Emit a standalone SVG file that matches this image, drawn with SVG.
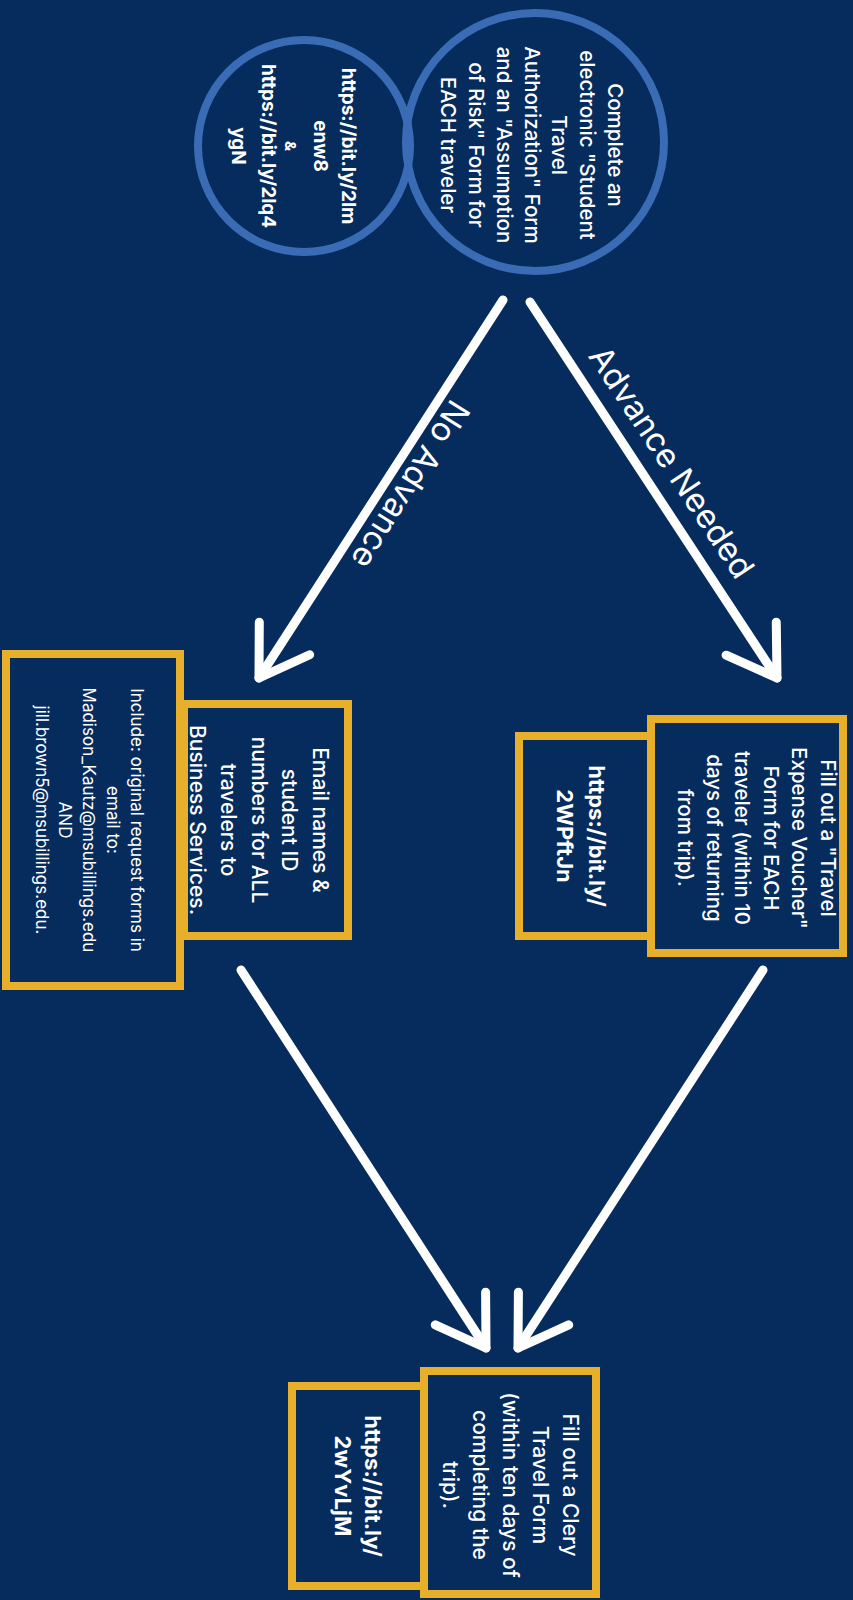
<svg xmlns="http://www.w3.org/2000/svg" width="853" height="1600" viewBox="0 0 853 1600">
<defs>
<style>
.bg{fill:#062c5e}
.circ{fill:none;stroke:#3a6cb6;stroke-width:8}
.box{fill:#062c5e;stroke:#e8b02a;stroke-width:8}
.t{font-family:Inter,"Open Sans","Liberation Sans",sans-serif;fill:#ffffff;text-anchor:middle;dominant-baseline:central}
.m{font-size:20.5px;font-weight:500}
.b{font-size:19px;font-weight:700}
.lk{font-size:22px;font-weight:700}
.s{font-size:17px;font-weight:400}
.lbl{font-size:33px;font-weight:400}
.arrow{fill:none;stroke:#ffffff;stroke-width:9;stroke-linecap:round;stroke-linejoin:round}
</style>
<marker id="head" markerUnits="userSpaceOnUse" orient="auto" refX="0" refY="0" markerWidth="120" markerHeight="120" overflow="visible">
<path d="M -47,-30 L 0,0 L -47,30" fill="none" stroke="#ffffff" stroke-width="9" stroke-linecap="round" stroke-linejoin="round"/>
</marker>
</defs>
<rect class="bg" x="0" y="0" width="853" height="1600"/>

<g id="links-circle">
<circle class="circ" cx="304" cy="146" r="106"/>
<g class="t b" transform="translate(293,146) rotate(90)">
<text x="0" y="-55">https://bit.ly/2lm</text>
<text x="0" y="-27">enw8</text>
<text x="0" y="3" style="font-size:15px">&amp;</text>
<text x="0" y="25">https://bit.ly/2lq4</text>
<text x="0" y="55">ygN</text>
</g>
</g>

<g id="start-circle">
<circle class="circ" cx="535" cy="142" r="129"/>
<g class="t m" transform="translate(532,145) rotate(90)">
<text x="0" y="-83.5">Complete an</text>
<text x="0" y="-55.7">electronic "Student</text>
<text x="0" y="-27.8">Travel</text>
<text x="0" y="0">Authorization" Form</text>
<text x="0" y="27.8">and an "Assumption</text>
<text x="0" y="55.7">of Risk" Form for</text>
<text x="0" y="83.5">EACH traveler</text>
</g>
</g>

<g id="connectors">
<path class="arrow" d="M 503,300 L 259,678" marker-end="url(#head)"/>
<path class="arrow" d="M 530,302 L 777,678" marker-end="url(#head)"/>
<path class="arrow" d="M 241,970 L 486,1348" marker-end="url(#head)"/>
<path class="arrow" d="M 763,970 L 518,1348" marker-end="url(#head)"/>
<text class="t lbl" transform="translate(411,485) rotate(122)">No Advance</text>
<text class="t lbl" transform="translate(672,462) rotate(56.5)">Advance Needed</text>
</g>

<g id="voucher-link">
<rect class="box" x="519" y="736" width="132" height="200"/>
<g class="t lk" transform="translate(581,836) rotate(90)">
<text x="0" y="-16">https://bit.ly/</text>
<text x="0" y="16">2WPftJn</text>
</g>
</g>

<g id="voucher">
<rect class="box" x="651" y="719" width="192" height="234"/>
<g class="t m" transform="translate(757,838) rotate(90)">
<text x="0" y="-71.5">Fill out a "Travel</text>
<text x="0" y="-42.9">Expense Voucher"</text>
<text x="0" y="-14.3">Form for EACH</text>
<text x="0" y="14.3">traveler (within 10</text>
<text x="0" y="42.9">days of returning</text>
<text x="0" y="71.5">from trip).</text>
</g>
</g>

<g id="include">
<rect class="box" x="6" y="654" width="174" height="332"/>
<g class="t s" transform="translate(89,820) rotate(90)">
<text x="0" y="-47.5">Include: original request forms in</text>
<text x="0" y="-23.75">email to:</text>
<text x="0" y="0">Madison_Kautz@msubillings.edu</text>
<text x="0" y="23.75">AND</text>
<text x="0" y="47.5">jill.brown5@msubillings.edu.</text>
</g>
</g>

<g id="email">
<rect class="box" x="184" y="704" width="164" height="232"/>
<g class="t m" transform="translate(259,820) rotate(90)" style="font-size:21px">
<text x="0" y="-61.4">Email names &amp;</text>
<text x="0" y="-30.7">student ID</text>
<text x="0" y="0">numbers for ALL</text>
<text x="0" y="30.7">travelers to</text>
<text x="0" y="61.4">Business Services.</text>
</g>
</g>

<g id="clery-link">
<rect class="box" x="292" y="1386" width="132" height="200"/>
<g class="t lk" transform="translate(358,1486) rotate(90)">
<text x="0" y="-15">https://bit.ly/</text>
<text x="0" y="15">2wYvLjM</text>
</g>
</g>

<g id="clery">
<rect class="box" x="424" y="1371" width="172" height="223"/>
<g class="t m" transform="translate(510,1485) rotate(90)" style="font-size:21px">
<text x="0" y="-60">Fill out a Clery</text>
<text x="0" y="-30">Travel Form</text>
<text x="0" y="0">(within ten days of</text>
<text x="0" y="30">completing the</text>
<text x="0" y="60">trip).</text>
</g>
</g>
</svg>
